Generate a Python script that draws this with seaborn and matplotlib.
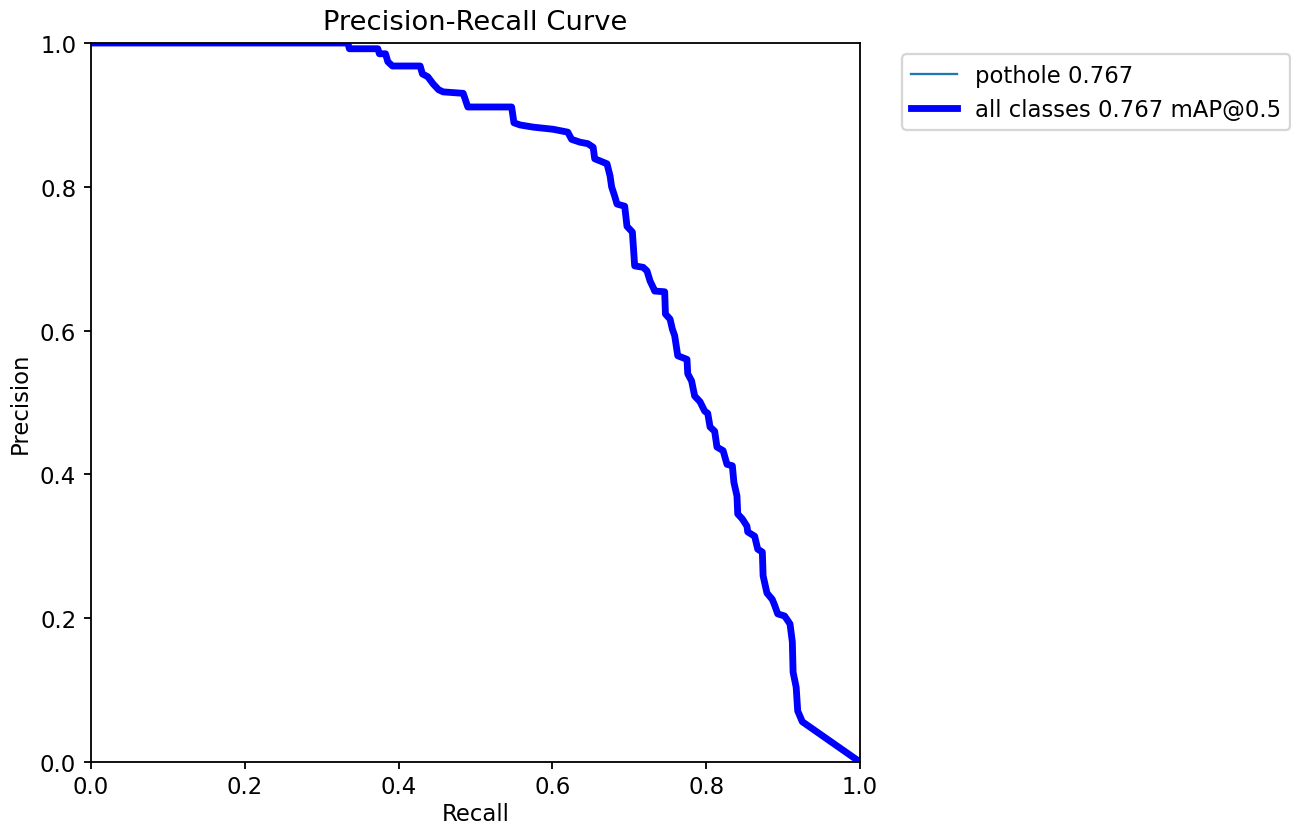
import matplotlib
matplotlib.use("Agg")
import matplotlib.pyplot as plt
import seaborn as sns
import pandas as pd

# PR curve vertices
recall = [0.0, 0.334, 0.336, 0.373, 0.375, 0.383, 0.386, 0.392, 0.428, 0.431,
          0.438, 0.445, 0.452, 0.458, 0.484, 0.490, 0.547, 0.550, 0.558, 0.575,
          0.601, 0.620, 0.625, 0.636, 0.646, 0.653, 0.655, 0.662, 0.671, 0.675,
          0.677, 0.681, 0.684, 0.694, 0.697, 0.704, 0.707, 0.718, 0.723, 0.727,
          0.731, 0.733, 0.746, 0.747, 0.753, 0.756, 0.759, 0.763, 0.775, 0.776,
          0.781, 0.785, 0.792, 0.798, 0.802, 0.805, 0.811, 0.814, 0.822, 0.827,
          0.834, 0.836, 0.840, 0.841, 0.847, 0.853, 0.854, 0.863, 0.867, 0.873,
          0.874, 0.879, 0.886, 0.889, 0.893, 0.902, 0.909, 0.912, 0.913, 0.917,
          0.919, 0.925, 1.0]
precision = [1.0, 1.0, 0.992, 0.992, 0.985, 0.985, 0.974, 0.968, 0.968, 0.957,
             0.953, 0.943, 0.935, 0.932, 0.930, 0.911, 0.911, 0.889, 0.886, 0.883,
             0.880, 0.876, 0.866, 0.862, 0.860, 0.855, 0.839, 0.836, 0.832, 0.815,
             0.800, 0.787, 0.776, 0.773, 0.745, 0.737, 0.690, 0.688, 0.683, 0.669,
             0.660, 0.655, 0.654, 0.623, 0.616, 0.602, 0.593, 0.565, 0.560, 0.540,
             0.530, 0.509, 0.501, 0.488, 0.485, 0.466, 0.460, 0.438, 0.433, 0.414,
             0.412, 0.389, 0.370, 0.345, 0.338, 0.328, 0.320, 0.314, 0.296, 0.292,
             0.259, 0.235, 0.226, 0.218, 0.206, 0.203, 0.192, 0.167, 0.125, 0.104,
             0.071, 0.056, 0.0]

class_label = "pothole 0.767"
all_label = "all classes 0.767 mAP@0.5"

df = pd.DataFrame({"Recall": recall, "Precision": precision})

DPI = 164.0
fig = plt.figure(figsize=(1291 / DPI, 826 / DPI), dpi=DPI)
ax = fig.add_axes([91 / 1291, 1 - 763 / 826, (860 - 91) / 1291, (763 - 44) / 826])

sns.lineplot(data=df, x="Recall", y="Precision", sort=False, estimator=None,
             ax=ax, color="#1f77b4", linewidth=1, label=class_label)
sns.lineplot(data=df, x="Recall", y="Precision", sort=False, estimator=None,
             ax=ax, color="blue", linewidth=3, label=all_label)

ax.set_xlim(0, 1)
ax.set_ylim(0, 1)
ax.tick_params(axis="x", pad=2.8, length=3.0)
ax.tick_params(axis="y", length=3.0)
ax.set_xlabel("Recall", labelpad=1.5)
ax.set_ylabel("Precision", labelpad=3.5)
ax.set_title("Precision-Recall Curve", fontsize=12)
ax.legend(bbox_to_anchor=(1.04, 1), loc="upper left")

fig.savefig("out.png", dpi=DPI)
